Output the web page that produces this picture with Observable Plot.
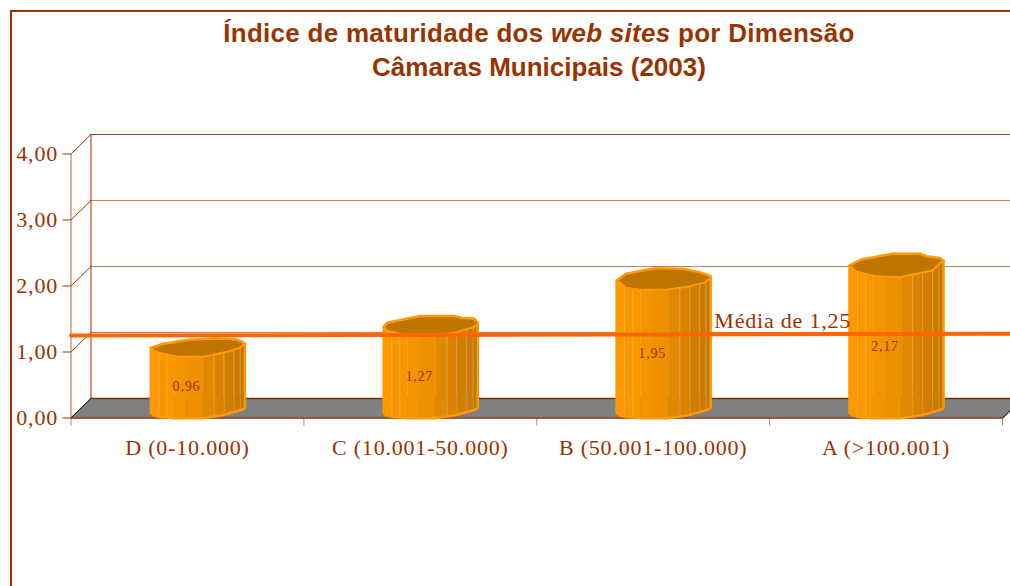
<!DOCTYPE html>
<html lang="pt">
<head>
<meta charset="utf-8">
<script src="https://cdn.jsdelivr.net/npm/d3@7"></script>
<script src="https://cdn.jsdelivr.net/npm/@observablehq/plot@0.6"></script>
<style>
  html, body { margin: 0; padding: 0; background: #fff; overflow: hidden; }
  #page { position: relative; width: 1010px; height: 586px; overflow: hidden; }
  #frame { position: absolute; left: 10px; top: 10px; width: 1100px; height: 700px;
           border-left: 2px solid #993300; border-top: 2px solid #993300; }
  #title { position: relative; height: 120px; box-sizing: border-box; padding-top: 16px; padding-left: 68px;
           text-align: center; color: #993300; font: bold 26px/34px "Liberation Sans", Arial, sans-serif; }
  #title .l1 { letter-spacing: 0.28px; }
  svg { display: block; overflow: hidden; }
  #chart svg text { letter-spacing: .8px; }
</style>
</head>
<body>
<div id="page">
  <div id="frame"></div>
  <div id="title">
    <div class="l1">Índice de maturidade dos <i>web sites</i> por Dimensão</div>
    <div>Câmaras Municipais (2003)</div>
  </div>
  <div id="chart"></div>
</div>
<script>
// ---- data ----
const categories = ["D (0-10.000)", "C (10.001-50.000)", "B (50.001-100.000)", "A (>100.001)"];
const values = [0.96, 1.27, 1.95, 2.17];
const valueLabels = ["0,96", "1,27", "1,95", "2,17"];
const mean = 1.25;
const meanLabel = "Média de 1,25";
const yTicks = [0, 1, 2, 3, 4];

// ---- drawing constants ----
const pxX = p => p / 232.9, pxY = p => p / 66;
const INK = "#993300", ORANGE = "#ff9900", TOPFILL = "#c07400", FLOOR = "#808080", MEANC = "#ff6600";
const depthX = pxX(20), depthY = pxY(19.5);
const barW = pxX(94), barShift = pxX(10.5), barBase = pxY(5), barGain = 1.03;
const serif = "'Liberation Serif', serif";

// cylinder facets: left edges as a fraction of the width, with shade
const stripEdges = [0, .088, .257, .38, .556, .673, .778, .884, .951, 1];
const stripFill = ["#fe9a00", "#f99700", "#f49400", "#ee9000", "#e18800", "#d98300", "#d07e00", "#ca7a00", "#c47700"];
// outline offsets (px, up positive) by width fraction, one per cylinder
const lowerTops = [
  [[0, 0], [.03, -3], [.088, -5], [.17, -6.7], [.275, -9], [.556, -9], [.81, -4], [.94, -.5], [1, 4]],
  [[0, 0], [.04, -4.3], [.22, -7.7], [.5, -9.3], [.75, -6], [.94, -1], [1, 2.3]],
  [[0, 0], [.1, -7.3], [.25, -9.3], [.53, -9.3], [.77, -6], [.94, -2], [1, 2.7]],
  [[0, 0], [.07, -6], [.28, -10.7], [.54, -11.7], [.88, -5], [1, 5]]
];
const upperTops = [
  [[0, 0], [.13, 4], [.41, 8], [.7, 9.3], [.9, 8.3], [.97, 6], [1, 4]],
  [[0, 0], [.04, 4], [.39, 10.7], [.75, 10.7], [.83, 8.7], [.96, 8], [1, 4]],
  [[0, 0], [.1, 6.7], [.42, 12.3], [.7, 11.7], [.88, 8.3], [1, 4.3]],
  [[0, 0], [.12, 6], [.46, 11.7], [.75, 11.7], [.82, 9.3], [.96, 7.3], [1, 5]]
];
const lowerBasePts = [[0, 0], [.03, -2.5], [.1, -4], [.28, -5.3], [.54, -5.3], [.75, -2.5], [.97, 3.2], [1, 5]];
const profile = (pts) => d3.scaleLinear().domain(pts.map(d => d[0])).range(pts.map(d => d[1]));
const lowerBase = profile(lowerBasePts);
const seamAt = [.085, .17, .673, .778, .884, .951];

const strips = [], outline = [], tops = [], seams = [], sides = [];
values.forEach((v, i) => {
  const left = i + .5 + barShift - barW / 2;
  const yb = barBase, yt = barBase + v * barGain;
  const X = f => left + f * barW;
  const lowerTop = profile(lowerTops[i]), upperTop = profile(upperTops[i]);
  const samples = Array.from(new Set([...stripEdges, ...lowerBasePts, ...lowerTops[i], ...upperTops[i]]
    .map(d => Array.isArray(d) ? d[0] : d))).sort((a, b) => a - b);
  stripFill.forEach((c, s) => {
    const a = stripEdges[s], b = stripEdges[s + 1];
    samples.filter(f => f >= a && f <= b).forEach(f =>
      strips.push({ k: `${i}-${s}`, c, x: X(f), y1: yb + pxY(lowerBase(f)), y2: yt + pxY(lowerTop(f)) }));
  });
  samples.forEach(f => {
    outline.push({ k: i, x: X(f), y1: yb + pxY(lowerBase(f)) });
    tops.push({ k: i, x: X(f), y1: yt + pxY(lowerTop(f)), y2: yt + pxY(upperTop(f)) });
  });
  seamAt.forEach(f => seams.push({ x: X(f), y1: yb + pxY(lowerBase(f)), y2: yt + pxY(lowerTop(f)) }));
  [0, 1].forEach(f => sides.push({ x: X(f), y1: yb + pxY(lowerBase(f)), y2: yt + pxY(lowerTop(f)) }));
});

const yticksBack = yTicks.slice(1);
const labels = values.map((v, i) => ({ x: i + .5 - pxX(1), y: v / 2, t: valueLabels[i] }));

const plot = Plot.plot({
  width: 1010, height: 466,
  marginLeft: 70.5, marginRight: 8, marginTop: 33.5, marginBottom: 168.5,
  x: { domain: [0, 4], axis: null },
  y: { domain: [0, 4], axis: null },
  color: { type: "identity" },
  marks: [
    // floor
    Plot.areaX([{ y: 0, x1: 0, x2: 4 }, { y: depthY, x1: depthX, x2: 4 + depthX }],
      { y: "y", x1: "x1", x2: "x2", fill: FLOOR }),
    Plot.ruleY([0], { x1: 0, x2: 4, stroke: "#7a2e0a", strokeWidth: 1.5 }),
    Plot.ruleY([0], { y: () => depthY, x1: depthX, x2: 4 + depthX, stroke: "#7a2e0a", strokeWidth: 1.5 }),
    // back wall grid
    Plot.ruleY(yticksBack, { y: d => d + depthY, x1: depthX, x2: 4 + depthX, stroke: INK,
      strokeOpacity: d => d === 4 ? 0.95 : 0.6, strokeWidth: 1 }),
    Plot.ruleX([depthX], { y1: depthY, y2: 4 + depthY, stroke: INK, strokeWidth: 1 }),
    Plot.ruleX([0], { y1: 0, y2: 4, stroke: INK, strokeOpacity: .75, strokeWidth: 1 }),
    // side wall diagonals
    ...yTicks.map(t => Plot.line([[0, t], [depthX, t + depthY]], { stroke: t === 0 ? "#222" : INK, strokeWidth: 1 })),
    Plot.line([[4, 0], [4 + depthX, depthY]], { stroke: "#222", strokeWidth: 1.2 }),
    // axes
    Plot.axisY({ ticks: yTicks, tickFormat: d => d3.format(".2f")(d).replace(".", ","), tickSize: 8, tickPadding: 5,
      stroke: INK, fill: INK, fontSize: 22, fontFamily: serif }),
    Plot.axisX({ ticks: yTicks, tickFormat: () => "", tickSize: 8, stroke: INK, strokeOpacity: .6, anchor: "bottom" }),
    Plot.text(categories, { x: (d, i) => i + .5, y: 0, dy: 30, text: d => d, fill: INK, fontSize: 22, fontFamily: serif }),
    // cylinders
    Plot.areaY(strips, { x: "x", y1: "y1", y2: "y2", z: "k", fill: "c", stroke: "c", strokeWidth: .4 }),
    Plot.ruleX(seams, { x: "x", y1: "y1", y2: "y2", stroke: "#f2c27a", strokeOpacity: .4, strokeWidth: 1 }),
    Plot.areaY(tops, { x: "x", y1: "y1", y2: "y2", z: "k", fill: TOPFILL }),
    Plot.line(outline, { x: "x", y: "y1", z: "k", stroke: ORANGE, strokeWidth: 2.5 }),
    Plot.line(tops, { x: "x", y: "y1", z: "k", stroke: ORANGE, strokeWidth: 2 }),
    Plot.line(tops, { x: "x", y: "y2", z: "k", stroke: ORANGE, strokeWidth: 2.5 }),
    Plot.ruleX(sides, { x: "x", y1: "y1", y2: "y2", stroke: ORANGE, strokeWidth: 2.5 }),
    // mean line
    Plot.line([[0, mean], [4 + pxX(8), mean + pxY(1.7)]], { stroke: MEANC, strokeWidth: 4 }),
    Plot.text([meanLabel], { x: 2 + pxX(246), y: mean, dy: -15, text: d => d, textAnchor: "middle", fill: INK, fontSize: 22, fontFamily: serif }),
    // value labels
    Plot.text(labels, { x: "x", y: "y", text: "t", fill: INK, fontSize: 14, fontFamily: serif })
  ]
});
document.getElementById("chart").appendChild(plot);
</script>
</body>
</html>
